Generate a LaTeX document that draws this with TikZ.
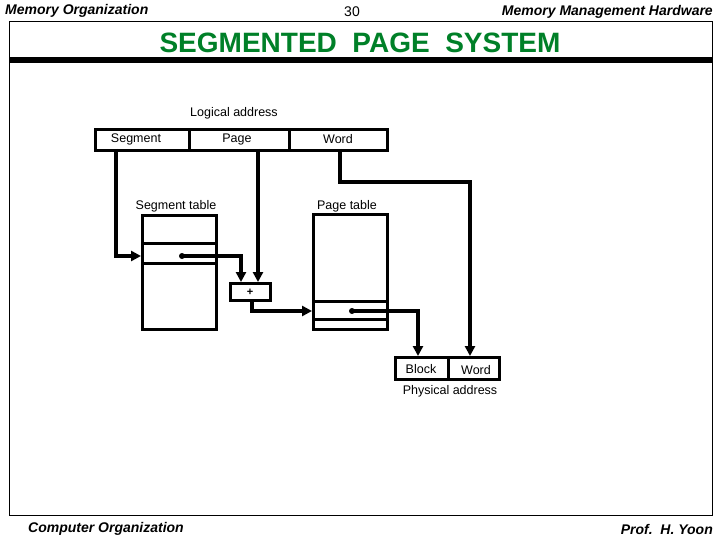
\documentclass[tikz,border=0pt]{standalone}
\usepackage{fontspec}
\setmainfont{Liberation Sans}
\usetikzlibrary{arrows.meta}
\definecolor{titlegreen}{RGB}{0,128,40}
\begin{document}
\begin{tikzpicture}[x=1pt,y=-1pt,
  box/.style={draw,line width=3pt,inner sep=0pt,anchor=north west},
  lbl/.style={font=\fontsize{12.5}{14}\selectfont,inner sep=0pt},
  conn/.style={line width=3.2pt},
  arr/.style={conn,-{Triangle[length=10pt,width=10pt]}},
  hdr/.style={font=\fontsize{14}{16}\selectfont\itshape\bfseries,inner sep=0pt},
  dotm/.style={circle,fill,inner sep=0pt,minimum size=6pt}]
\useasboundingbox (0,0) rectangle (720,540);
% frame
\draw[line width=1pt] (9,22) rectangle (712,515);
\fill (9,57) rectangle (712,63);
% header / footer
\node[hdr,anchor=west] (h1) at (5,11) {Memory Organization};
\node[font=\fontsize{14}{16}\selectfont,inner sep=0pt] (h2) at (352,12) {30};
\node[hdr,anchor=east] (h3) at (713,12) {Memory Management Hardware};
\node[hdr,anchor=west] (f1) at (28,529) {Computer Organization};
\node[hdr,anchor=east] (f2) at (713,529) {Prof.\ \ H. Yoon};
\node[font=\fontsize{28}{32}\selectfont\bfseries,text=titlegreen,inner sep=0pt] (title) at (360,43) {SEGMENTED\ \ PAGE\ \ SYSTEM};
% logical address
\node[lbl] (lal) at (234,113) {Logical address};
\node[box,minimum width=94pt,minimum height=21pt] (seg) at (94,128) {};
\node[box,minimum width=100pt,minimum height=21pt] (pg) at (188,128) {};
\node[box,minimum width=98pt,minimum height=21pt] (wd) at (288,128) {};
\node[lbl] at (136,139) {Segment};
\node[lbl] at (237,139) {Page};
\node[lbl] at (338,139) {Word};
% segment table
\node[lbl] (stl) at (176,206) {Segment table};
\node[box,minimum width=74pt,minimum height=114pt] (st) at (141,214) {};
\node[box,minimum width=74pt,minimum height=20pt] (ste) at (141,242) {};
\node[dotm] (sd) at (182,256) {};
% adder
\node[box,minimum width=40pt,minimum height=17pt] (add) at (229,282) {};
\node[font=\fontsize{11}{12}\selectfont\bfseries,inner sep=0pt] at (250,292) {+};
% page table
\node[lbl] (ptl) at (347,206) {Page table};
\node[box,minimum width=74pt,minimum height=115pt] (pt) at (312,213) {};
\node[box,minimum width=74pt,minimum height=18pt] (pte) at (312,300) {};
\node[dotm] (pd) at (352,311) {};
% physical address
\node[box,minimum width=53pt,minimum height=22pt] (blk) at (394,356) {};
\node[box,minimum width=51pt,minimum height=22pt] (pw) at (447,356) {};
\node[lbl] at (421,369) {Block};
\node[lbl] at (476,370) {Word};
\node[lbl] (pal) at (450,391) {Physical address};
% connectors
\coordinate (c1) at (116,149);
\coordinate (c1e) at (141,256);
\draw[arr] (c1) |- (c1e);
\coordinate (c2) at (258,149);
\coordinate (c2e) at (258,282);
\draw[arr] (c2) -- (c2e);
\coordinate (c3) at (340,149);
\coordinate (c3m) at (470,182);
\coordinate (c3e) at (470,356);
\draw[arr] (c3) |- (c3m) -- (c3e);
\coordinate (c4e) at (241,282);
\draw[arr] (sd.center) -| (c4e);
\coordinate (c5) at (252,299);
\coordinate (c5e) at (312,311);
\draw[arr] (c5) |- (c5e);
\coordinate (c6e) at (418,356);
\draw[arr] (pd.center) -| (c6e);
\end{tikzpicture}
\end{document}
